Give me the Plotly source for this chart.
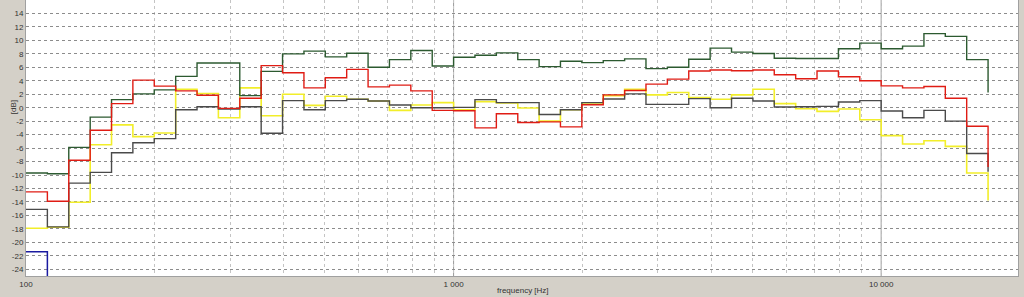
import plotly.graph_objects as go

# band edges (Hz) of the 1/6-octave-like steps; last value = end of last step
freq = [100, 112.2, 125.9, 141.3, 158.5, 177.8, 199.5, 223.9, 251.2, 281.8,
        316.2, 354.8, 398.1, 446.7, 501.2, 562.3, 631.0, 707.9, 794.3, 891.3,
        1000, 1122, 1259, 1413, 1585, 1778, 1995, 2239, 2512, 2818,
        3162, 3548, 3981, 4467, 5012, 5623, 6310, 7079, 7943, 8913,
        10000, 11220, 12589, 14125, 15849, 17783]

green = [-9.7, -9.8, -5.9, -1.4, 1.2, 2.05, 2.65, 4.65, 6.65, 6.65,
         1.8, 5.4, 8.0, 8.4, 7.55, 8.1, 6.0, 7.15, 8.5, 6.2,
         7.5, 7.8, 8.15, 7.15, 6.1, 6.9, 6.7, 7.0, 7.25, 5.8,
         6.0, 7.2, 8.85, 8.25, 8.05, 7.35, 7.3, 7.3, 8.75, 9.6,
         8.75, 9.15, 11.0, 10.6, 7.15, 2.25]

red = [-12.5, -13.9, -7.8, -3.35, 0.6, 4.1, 3.2, 2.5, 1.85, -0.1,
       1.4, 6.25, 5.2, 2.95, 4.45, 5.7, 3.1, 3.35, 2.5, -0.4,
       -0.45, -3.0, -0.9, -2.2, -2.1, -2.85, 0.45, 1.9, 2.55, 3.5,
       4.25, 5.45, 5.6, 5.5, 5.6, 4.9, 4.3, 5.45, 4.6, 4.0,
       3.25, 2.95, 3.15, 1.4, -2.75, -8.8]

yellow = [-17.9, -17.75, -14.05, -5.5, -2.55, -4.3, -3.75, 2.75, 2.1, -1.5,
          2.95, -1.2, 2.0, 0.35, 1.7, 1.25, 1.0, -0.4, 0.4, 0.75,
          -0.3, 0.9, 0.7, -0.05, -2.0, -0.3, 0.55, 1.8, 2.75, 1.9,
          2.25, 1.5, 1.25, 1.9, 2.75, 0.6, -0.15, -0.55, -0.2, -1.8,
          -4.15, -5.4, -4.9, -5.75, -9.7, -13.8]

gray = [-15.1, -17.7, -11.2, -9.6, -6.7, -5.2, -4.6, -0.3, 0.15, -0.2,
        0.15, -3.8, 1.05, -0.3, 1.05, 1.25, 1.0, 0.4, 0.0, 0.0,
        0.05, 1.2, 0.75, 0.75, -1.0, -0.3, 0.75, 1.3, 2.05, 0.5,
        0.5, 1.35, 0.0, 1.4, 1.0, 0.1, 0.15, 0.2, 0.85, 1.05,
        -0.5, -1.5, -0.4, -2.0, -6.8, -9.5]

blue_freq = [100, 112.2]
blue = [-21.4, -30.0]

y_ticks = list(range(-24, 17, 2))
x_grid = [100, 200, 300, 400, 500, 600, 700, 800, 900,
          1000, 2000, 3000, 4000, 5000, 6000, 7000, 8000, 9000, 10000]
x_labels = {100: "100", 1000: "1 000", 10000: "10 000"}

fig = go.Figure()
fig.add_trace(go.Scatter(x=blue_freq, y=blue, mode="lines", line_shape="hv",
                         line=dict(color="#1a1aa0", width=1.5)))
fig.add_trace(go.Scatter(x=freq, y=yellow, mode="lines", line_shape="hv",
                         line=dict(color="#f2ee2a", width=1.6)))
fig.add_trace(go.Scatter(x=freq, y=gray, mode="lines", line_shape="hv",
                         line=dict(color="#4a4a4a", width=1.4)))
fig.add_trace(go.Scatter(x=freq, y=green, mode="lines", line_shape="hv",
                         line=dict(color="#2c5a30", width=1.4)))
fig.add_trace(go.Scatter(x=freq, y=red, mode="lines", line_shape="hv",
                         line=dict(color="#e01c14", width=1.4)))

for f in (1000, 10000):
    fig.add_shape(type="line", xref="x", yref="paper", x0=f, x1=f, y0=0, y1=1,
                  line=dict(color="#9a9a9a", width=1), layer="below")

fig.update_layout(
    width=1024, height=297,
    margin=dict(l=26, r=6, t=0, b=21),
    paper_bgcolor="#d4d0c8",
    plot_bgcolor="#ffffff",
    showlegend=False,
    font=dict(family="Liberation Sans, Arial, sans-serif", size=8, color="#333333"),
    xaxis=dict(
        type="log", range=[2, 4.32],
        tickvals=x_grid,
        ticktext=[x_labels.get(v, "") for v in x_grid],
        showgrid=True, gridcolor="#c4c4c4", griddash="dot", gridwidth=1,
        showline=True, linecolor="#a0a0a0", linewidth=1, mirror=True,
        ticks="", zeroline=False, tickfont=dict(size=8, color="#333333"),
    ),
    yaxis=dict(
        range=[-25, 16],
        tickvals=y_ticks,
        ticktext=[str(v) for v in y_ticks],
        showgrid=True, gridcolor="#8c8c8c", griddash="dot", gridwidth=1,
        showline=True, linecolor="#a0a0a0", linewidth=1, mirror=True,
        ticks="", zeroline=False, tickfont=dict(size=8, color="#333333"),
    ),
    annotations=[
        dict(text="[dB]", xref="paper", yref="paper", x=-0.0195, y=0.612,
             textangle=-90, showarrow=False, font=dict(size=8, color="#333333")),
        dict(text="frequency [Hz]", xref="paper", yref="paper", x=0.501, y=-0.054,
             yanchor="middle", showarrow=False, font=dict(size=8, color="#333333")),
    ],
)

fig.write_html("out.html", config={"displayModeBar": False})
